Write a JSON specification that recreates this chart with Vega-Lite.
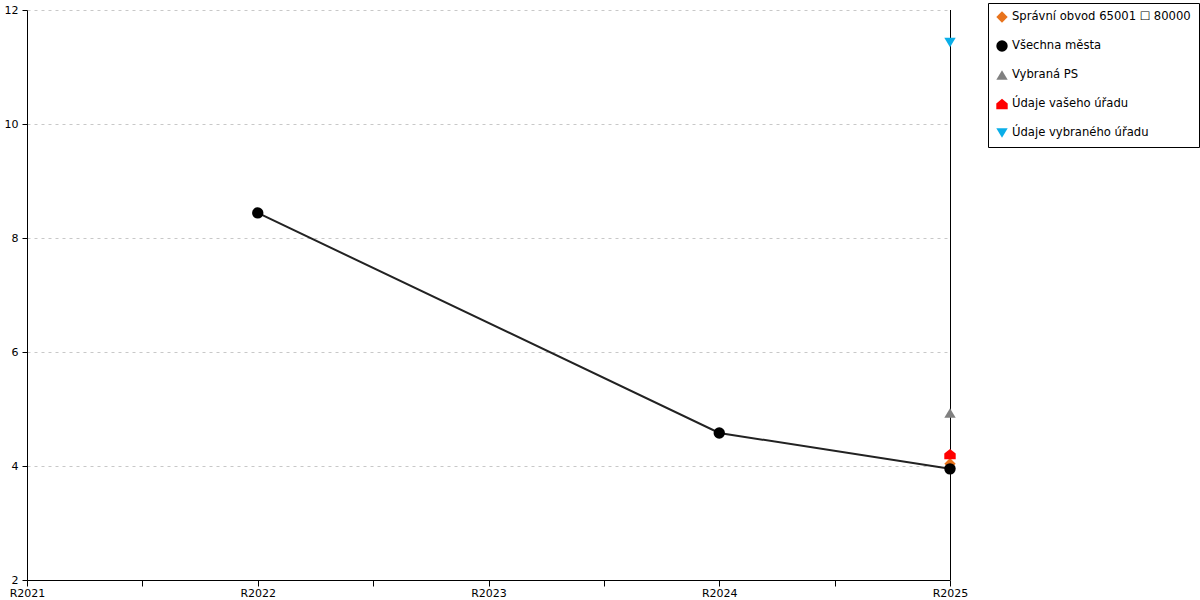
{
  "$schema": "https://vega.github.io/schema/vega-lite/v6.json",
  "width": 923,
  "height": 570,
  "autosize": {"type": "none"},
  "padding": {"left": 27, "top": 10, "right": 250, "bottom": 20},
  "background": "white",
  "data": {
    "values": [
      {"series": "Správní obvod 65001 ☐ 80000", "year": 2025, "value": 4.04},
      {"series": "Všechna města", "year": 2022, "value": 8.44},
      {"series": "Všechna města", "year": 2024, "value": 4.58},
      {"series": "Všechna města", "year": 2025, "value": 3.95},
      {"series": "Vybraná PS", "year": 2025, "value": 4.93},
      {"series": "Údaje vašeho úřadu", "year": 2025, "value": 4.21},
      {"series": "Údaje vybraného úřadu", "year": 2025, "value": 11.43}
    ]
  },
  "config": {
    "view": {"stroke": null},
    "axis": {
      "labelFont": "DejaVu Sans",
      "labelFontSize": 11,
      "labelColor": "black",
      "domainColor": "black",
      "tickColor": "black",
      "title": null
    },
    "legend": {
      "labelFont": "DejaVu Sans",
      "labelFontSize": 11.6,
      "labelColor": "black",
      "labelLimit": 400
    }
  },
  "layer": [
    {
      "mark": {"type": "rule", "color": "black", "strokeWidth": 1, "xOffset": 0.5},
      "encoding": {
        "x": {"datum": 2025, "type": "quantitative"}
      }
    },
    {
      "transform": [{"filter": "datum.series === 'Všechna města'"}],
      "mark": {"type": "line", "color": "#222222", "strokeWidth": 2},
      "encoding": {
        "x": {"field": "year", "type": "quantitative"},
        "y": {"field": "value", "type": "quantitative"}
      }
    },
    {
      "mark": {"type": "point", "filled": true, "opacity": 1, "size": 130, "strokeWidth": 0},
      "encoding": {
        "x": {
          "field": "year",
          "type": "quantitative",
          "scale": {"domain": [2021, 2025], "nice": false, "zero": false},
          "axis": {
            "values": [2021, 2021.5, 2022, 2022.5, 2023, 2023.5, 2024, 2024.5, 2025],
            "labelExpr": "datum.value % 1 === 0 ? 'R' + datum.value : ''",
            "grid": false,
            "tickSize": 6,
            "labelPadding": 1,
            "labelFlush": false,
            "labelOverlap": false
          }
        },
        "y": {
          "field": "value",
          "type": "quantitative",
          "scale": {"domain": [2, 12], "nice": false, "zero": false},
          "axis": {
            "values": [2, 4, 6, 8, 10, 12],
            "format": "d",
            "grid": true,
            "gridColor": "#c8c8c8",
            "gridDash": [3, 4],
            "tickSize": 5,
            "labelPadding": 4
          }
        },
        "shape": {
          "field": "series",
          "type": "nominal",
          "scale": {
            "domain": ["Správní obvod 65001 ☐ 80000", "Všechna města", "Vybraná PS", "Údaje vašeho úřadu", "Údaje vybraného úřadu"],
            "range": ["diamond", "circle", "M-1,0.85L1,0.85L0,-0.85Z", "M-1,0.9L-1,-0.1L0,-0.9L1,-0.1L1,0.9Z", "M-1,-0.85L1,-0.85L0,0.85Z"]
          },
          "legend": {
            "title": null,
            "orient": "none",
            "legendX": 961,
            "legendY": -7,
            "strokeColor": "black",
            "fillColor": "white",
            "padding": 8,
            "rowPadding": 17,
            "symbolSize": 130,
            "symbolStrokeWidth": 0,
            "labelOffset": 4,
            "labelLimit": 400,
            "offset": 0
          }
        },
        "color": {
          "field": "series",
          "type": "nominal",
          "scale": {
            "domain": ["Správní obvod 65001 ☐ 80000", "Všechna města", "Vybraná PS", "Údaje vašeho úřadu", "Údaje vybraného úřadu"],
            "range": ["#e8731c", "#000000", "#808080", "#ff0000", "#0aaee8"]
          },
          "legend": {
            "title": null,
            "orient": "none",
            "legendX": 961,
            "legendY": -7,
            "strokeColor": "black",
            "fillColor": "white",
            "padding": 8,
            "rowPadding": 17,
            "symbolSize": 130,
            "symbolStrokeWidth": 0,
            "labelOffset": 4,
            "labelLimit": 400,
            "offset": 0
          }
        }
      }
    }
  ]
}
